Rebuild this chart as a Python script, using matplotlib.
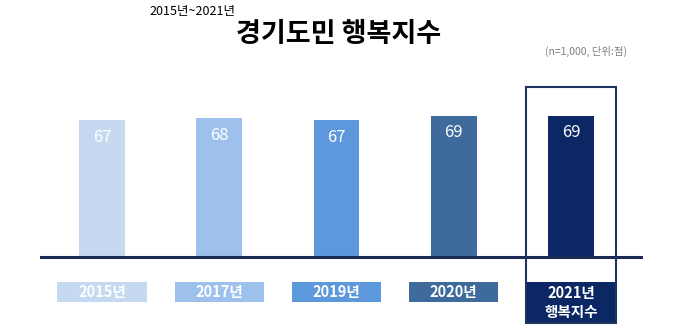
import matplotlib.pyplot as plt
from matplotlib.patches import Rectangle

plt.rcParams['font.family'] = ['Noto Sans CJK KR', 'DejaVu Sans']

years = ['2015년', '2017년', '2019년', '2020년', '2021년\n행복지수']
scores = [67, 68, 67, 69, 69]
colors = ['#c5d9f1', '#9dc1ec', '#5d97dc', '#3f6a9c', '#0b2865']

W, H = 680, 328
fig = plt.figure(figsize=(W / 100, H / 100), dpi=100)

# axes spans x 40..643 px, full height; baseline sits at 257 px from top
ppu_x = 117.25          # px per category step
ppu_y = 2.05            # px per score point
x0_px, base_px = 102, 257
left_px, right_px = 40, 643
ax = fig.add_axes([left_px / W, 0, (right_px - left_px) / W, 1])
ax.set_xlim(-(x0_px - left_px) / ppu_x, 4 + (right_px - 571) / ppu_x)
ax.set_ylim(-(H - base_px) / ppu_y, base_px / ppu_y)
ax.axis('off')

xs = list(range(len(scores)))
ax.bar(xs, scores, width=0.39, color=colors, zorder=2)
for x, v in zip(xs, scores):
    ax.text(x, v - 8.5, str(v), color='white', fontsize=12,
            ha='center', va='center', zorder=3)

ax.axhline(0, color='#1b2a55', lw=2.2, zorder=4)

# year label boxes under the baseline
lab_top = -(282 - base_px) / ppu_y
lab_bot = -(302 - base_px) / ppu_y
last_bot = -(323 - base_px) / ppu_y
for x, lab, c in zip(xs, years, colors):
    if x < 4:
        ax.bar(x, lab_top - lab_bot, bottom=lab_bot, width=0.76, color=c, zorder=2)
        ax.text(x, (lab_top + lab_bot) / 2, lab, color='white', fontsize=10.5,
                fontweight='bold', ha='center', va='center', zorder=3)
    else:
        ax.bar(x, lab_top - last_bot, bottom=last_bot, width=0.76, color=c, zorder=2)
        ax.text(x, (lab_top + last_bot) / 2, lab, color='white', fontsize=10.5,
                fontweight='bold', ha='center', va='center', linespacing=1.25,
                zorder=3)

# highlight frame around the 2021 column
box_top = (base_px - 87) / ppu_y
ax.add_patch(Rectangle((4 - 0.38, last_bot), 0.76, box_top - last_bot,
                       fill=False, edgecolor='#1f3461', lw=1.5, zorder=5))

fig.text(149 / W, 1 - 12 / H, '2015년~2021년', fontsize=9, ha='left', va='center')
fig.text(236 / W, 1 - 34 / H, '경기도민 행복지수', fontsize=19.5, fontweight='bold',
         ha='left', va='center')
fig.text(627 / W, 1 - 51 / H, '(n=1,000, 단위:점)', fontsize=7.5, color='#7f7f7f',
         ha='right', va='center')

fig.savefig('out.png', dpi=100)
